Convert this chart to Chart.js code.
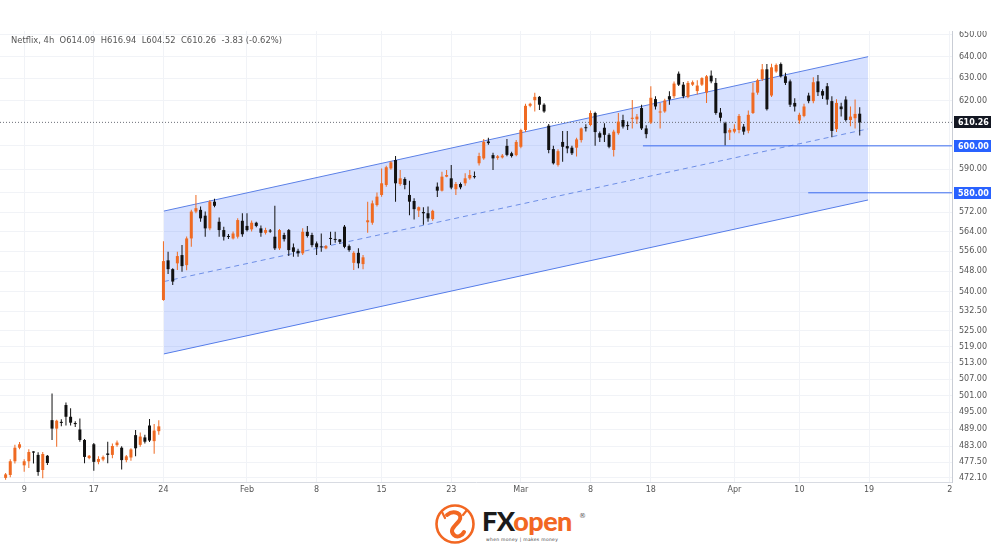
<!DOCTYPE html>
<html>
<head>
<meta charset="utf-8">
<title>Netflix 4h</title>
<script src="https://cdn.jsdelivr.net/npm/chart.js@4.4.1/dist/chart.umd.min.js"></script>
<style>
  html, body { margin: 0; padding: 0; background: #fff; }
  body { width: 1000px; height: 549px; position: relative; overflow: hidden; font-family: "DejaVu Sans", sans-serif; }
  #panel { position: absolute; left: 0; top: 31px; width: 994px; height: 466px; }
  #legend { position: absolute; left: 11px; top: 35px; font-size: 8.4px; color: #555; white-space: pre; }
  #logo { position: absolute; left: 434px; top: 503px; width: 160px; height: 44px; }
  #logo svg { position: absolute; left: 0; top: 0; }
  #brand { position: absolute; left: 48px; top: 3px; font-family: Lato, "Open Sans", sans-serif; font-weight: 900; font-size: 27px; letter-spacing: -0.6px; line-height: 30px; }
  #brand .fx { color: #1b1b1b; }
  #brand .op { color: #f26722; }
  #reg { position: absolute; left: 145px; top: 9px; font-size: 7px; color: #555; }
  #tag { position: absolute; left: 52px; top: 34px; font-size: 4.5px; color: #444; letter-spacing: 0.3px; white-space: pre; }
</style>
</head>
<body>
<div id="panel"><canvas id="priceChart"></canvas></div>
<div id="legend">Netflix, 4h  O614.09  H616.94  L604.52  C610.26  -3.83 (-0.62%)</div>
<div id="logo">
  <svg width="42" height="42" viewBox="0 0 42 42">
    <circle cx="21" cy="21" r="18.5" fill="#fff" stroke="#f26722" stroke-width="2.6"/>
    <path d="M13 12 C 20 6, 30 11, 25 18 C 20 24, 15 27, 20 32 C 23 35, 28 33, 30 29" fill="none" stroke="#f26722" stroke-width="4" stroke-linecap="round"/>
    <path d="M11 15 L 8 9 M 29 12 L 33 7" stroke="#f26722" stroke-width="2.2" stroke-linecap="round"/>
  </svg>
  <div id="brand"><span class="fx">FX</span><span class="op">open</span></div>
  <div id="reg">®</div>
  <div id="tag">when money | makes money</div>
</div>
<script>
// Netflix 4h candles (index 0 = first visible bar)
const opens = [
  472.1, 473.1, 477.8, 482.5, 476.4, 477.8, 481.2, 480.0, 474.8, 479.7, 492.2, 489.2, 491.6, 497.6, 493.4, 491.2, 488.9,
  485.2, 478.9, 483.7, 477.6, 478.4, 480.5, 480.0, 483.4, 482.5, 478.2, 479.1, 486.9, 483.5, 486.1, 490.3, 484.8, 488.3,
  536.8, 552.4, 548.9, 551.2, 554.5, 550.5, 561.2, 572.2, 572.9, 570.5, 565.3, 576.3, 568.0, 564.6, 562.2, 561.2, 561.9,
  568.4, 566.3, 564.9, 567.6, 565.3, 563.5, 564.4, 561.9, 557.2, 562.6, 564.6, 557.6, 556.2, 555.2, 563.9, 562.6, 559.2,
  558.0, 557.2, 561.4, 561.0, 560.8, 566.0, 558.1, 551.4, 555.4, 550.9, 567.8, 567.6, 574.9, 579.1, 583.3, 590.3, 593.9,
  583.7, 585.8, 579.1, 576.6, 572.6, 572.0, 571.5, 569.1, 582.6, 580.9, 586.8, 586.1, 581.5, 583.7, 584.0, 586.1, 587.0,
  592.5, 594.6, 601.9, 596.0, 594.8, 595.0, 600.0, 596.8, 596.0, 599.6, 606.9, 617.6, 620.1, 621.6, 618.1, 608.8, 598.6,
  591.8, 601.7, 599.9, 599.2, 599.2, 602.5, 608.1, 609.1, 614.4, 605.5, 607.9, 604.8, 598.2, 605.5, 611.3, 609.0, 611.8,
  611.6, 616.6, 607.6, 610.2, 620.6, 614.6, 615.1, 621.9, 621.9, 632.1, 627.1, 621.5, 627.1, 624.2, 627.1, 623.5, 631.2,
  627.9, 614.6, 609.9, 605.8, 606.2, 606.9, 608.4, 606.6, 614.4, 623.5, 629.6, 634.1, 622.2, 633.1, 636.5, 630.9, 628.6,
  618.9, 611.1, 613.1, 622.2, 619.7, 628.6, 624.2, 626.4, 619.7, 607.3, 617.3, 620.4, 611.3, 612.1, 614.09
];
const highs = [
  473.8, 478.5, 483.5, 484.5, 478.5, 482.0, 481.3, 480.9, 481.0, 480.0, 501.8, 492.3, 492.5, 498.5, 496.4, 491.8, 492.8,
  485.5, 480.0, 484.1, 479.5, 479.8, 484.6, 484.0, 485.0, 483.0, 480.0, 482.3, 488.7, 487.8, 487.0, 492.6, 490.8, 492.2,
  560.1, 555.8, 549.3, 555.8, 558.5, 562.0, 572.9, 579.1, 574.3, 572.2, 577.0, 577.5, 569.8, 566.0, 563.0, 564.0, 569.4,
  571.5, 571.5, 568.5, 568.0, 566.5, 565.5, 565.0, 574.6, 565.0, 563.5, 565.0, 559.2, 557.0, 565.3, 566.3, 563.5, 560.0,
  563.2, 558.5, 563.9, 563.9, 561.0, 566.7, 558.8, 556.0, 557.2, 554.5, 576.3, 576.8, 580.1, 590.3, 591.4, 593.4, 595.6,
  589.6, 586.5, 585.1, 577.7, 574.3, 574.0, 574.3, 573.0, 584.3, 588.9, 589.6, 591.8, 584.5, 584.3, 588.2, 589.6, 589.0,
  597.0, 603.0, 603.5, 597.0, 596.0, 596.5, 603.0, 597.5, 602.5, 607.5, 618.5, 619.0, 623.4, 622.0, 618.8, 609.5, 600.0,
  598.5, 606.5, 606.5, 600.0, 603.5, 608.0, 609.4, 615.5, 615.0, 606.2, 609.9, 605.5, 607.0, 614.4, 613.6, 610.6, 620.2,
  614.0, 618.1, 609.0, 626.4, 621.9, 618.9, 620.8, 624.1, 628.5, 633.1, 628.3, 628.8, 629.0, 629.1, 630.5, 631.5, 633.6,
  630.1, 616.6, 610.5, 607.7, 609.4, 614.0, 609.5, 615.5, 627.9, 629.8, 636.5, 636.5, 636.7, 636.8, 637.2, 632.5, 629.5,
  621.0, 614.5, 618.5, 623.5, 630.5, 631.5, 625.0, 627.9, 621.9, 620.5, 619.0, 621.9, 617.3, 620.4, 616.94
];
const lows = [
  471.5, 472.3, 477.0, 482.0, 474.2, 475.5, 477.0, 472.8, 472.0, 476.5, 485.2, 482.8, 490.0, 490.3, 490.3, 489.8, 484.6,
  477.1, 478.5, 474.5, 476.8, 477.8, 477.1, 478.8, 482.8, 475.0, 477.5, 478.0, 479.5, 482.8, 484.0, 484.5, 480.4, 487.0,
  536.5, 547.0, 542.6, 548.6, 547.9, 548.5, 557.8, 571.5, 568.0, 561.9, 564.5, 574.0, 561.9, 560.4, 561.0, 560.8, 561.2,
  561.9, 564.0, 564.0, 565.8, 561.9, 562.8, 563.5, 556.5, 556.5, 560.0, 554.1, 553.8, 553.8, 554.5, 561.6, 557.6, 554.5,
  555.8, 556.8, 558.5, 559.5, 559.0, 557.2, 555.8, 548.6, 549.3, 548.9, 563.5, 566.8, 574.3, 578.4, 582.5, 589.7, 576.3,
  583.0, 581.5, 570.7, 568.9, 570.0, 566.8, 568.0, 568.4, 578.2, 580.5, 586.5, 581.5, 579.1, 581.5, 583.0, 585.5, 586.0,
  591.5, 594.0, 600.5, 589.6, 594.0, 594.5, 595.5, 595.0, 595.5, 599.0, 606.0, 617.0, 615.1, 615.7, 614.5, 596.8, 592.0,
  591.1, 593.2, 596.8, 596.0, 595.4, 601.5, 606.2, 608.5, 600.0, 601.7, 601.7, 599.0, 595.4, 604.8, 607.6, 606.9, 607.6,
  609.5, 606.9, 603.3, 609.5, 616.0, 607.6, 614.5, 618.1, 621.0, 626.5, 621.0, 621.0, 626.5, 622.7, 626.5, 618.9, 627.8,
  613.6, 610.6, 600.3, 602.5, 605.5, 605.5, 604.8, 605.5, 614.0, 622.5, 628.8, 615.5, 621.5, 632.5, 630.3, 627.0, 617.1,
  615.1, 609.6, 612.5, 618.8, 618.8, 622.0, 620.7, 618.1, 603.7, 606.0, 612.8, 610.6, 608.6, 607.6, 604.52
];
const closes = [
  473.3, 477.8, 482.5, 483.7, 477.8, 481.0, 480.8, 474.1, 480.3, 477.2, 489.2, 492.0, 491.2, 493.4, 491.3, 490.8, 485.2,
  479.3, 479.7, 477.6, 478.6, 479.3, 480.0, 483.1, 484.3, 478.2, 479.5, 481.9, 482.3, 486.4, 484.6, 485.0, 488.5, 490.0,
  552.1, 548.9, 544.0, 554.1, 550.1, 561.2, 572.2, 573.6, 569.4, 565.3, 576.3, 574.6, 564.6, 561.9, 561.8, 563.2, 568.7,
  562.9, 564.6, 567.6, 566.3, 563.5, 564.6, 564.0, 557.2, 564.6, 560.9, 556.5, 555.8, 555.2, 563.9, 562.2, 558.5, 557.6,
  557.6, 558.1, 561.0, 560.6, 559.8, 557.8, 556.5, 555.4, 551.2, 553.6, 568.6, 575.6, 578.4, 584.0, 590.8, 592.9, 584.0,
  586.1, 583.3, 576.3, 573.2, 574.0, 571.5, 569.4, 572.5, 580.9, 586.8, 587.5, 582.2, 583.7, 582.3, 586.1, 587.5, 586.6,
  595.6, 601.7, 601.2, 594.6, 595.5, 595.8, 596.1, 595.6, 601.7, 606.9, 617.6, 618.5, 621.6, 618.1, 615.1, 598.2, 592.5,
  597.7, 599.6, 598.9, 596.8, 602.8, 607.6, 607.7, 614.4, 606.0, 603.6, 604.8, 599.6, 606.2, 610.6, 608.4, 608.6, 612.3,
  612.8, 607.6, 605.1, 621.2, 617.3, 615.1, 620.0, 620.4, 627.6, 627.1, 621.9, 627.9, 628.2, 626.7, 630.1, 630.9, 628.6,
  614.4, 612.3, 605.5, 606.9, 607.4, 613.1, 606.2, 613.6, 623.5, 629.1, 634.1, 616.1, 635.0, 636.1, 630.9, 627.9, 618.1,
  617.3, 613.6, 617.3, 619.7, 628.2, 623.7, 622.2, 620.4, 606.5, 618.9, 616.1, 611.3, 612.8, 614.0, 610.26
];

// date labels under the axis, placed at bar index
const tickIdx = [4, 19, 34, 52, 67, 81, 96, 111, 126, 139, 157, 171, 186, 203.4];
const tickText = ['9', '17', '24', 'Feb', '8', '15', '23', 'Mar', '8', '18', 'Apr', '10', '19', '2'];

// price axis labels (TradingView style log axis)
const priceTicks = [650, 640, 630, 620, 600, 590, 580, 572, 564, 556, 548, 540, 532.5, 525, 519, 513, 507, 501, 495, 489, 483, 477.5, 472.1];

// drawings: regression channel, horizontal levels, last price
const channelIdx = [34.1, 185.8];
const channelTop = [572.4, 639.9];
const channelMid = [544.0, 607.4];
const channelBottom = [516.3, 577.0];
const levelPrices = [600, 580];
const levelStartIdx = [137.3, 172.9];
const lastPrice = 610.26;

const UP = '#ef6a22';
const DOWN = '#111111';
const X_MIN = -1.21, X_MAX = 203.88;

const candleColors = closes.map((c, i) => c >= opens[i] ? UP : DOWN);
const wickData = highs.map((h, i) => ({ x: i, y: [lows[i], h] }));
const bodyData = opens.map((o, i) => ({ x: i, y: [o, closes[i]] }));

function twoPoint(xs, ys) {
  return [{ x: xs[0], y: ys[0] }, { x: xs[1], y: ys[1] }];
}

const lineBase = { type: 'line', pointRadius: 0, borderWidth: 1, tension: 0, fill: false };

const datasets = [
  Object.assign({}, lineBase, {
    data: twoPoint(channelIdx, channelTop), borderColor: '#5b80e6',
    fill: '+1', backgroundColor: 'rgba(41,98,255,0.19)', order: 10
  }),
  Object.assign({}, lineBase, { data: twoPoint(channelIdx, channelBottom), borderColor: '#5b80e6', order: 10 }),
  Object.assign({}, lineBase, { data: twoPoint(channelIdx, channelMid), borderColor: '#6d8ee6', borderDash: [5, 4], order: 9 }),
  Object.assign({}, lineBase, { data: twoPoint([X_MIN, X_MAX], [lastPrice, lastPrice]), borderColor: '#6b6f78', borderDash: [1, 2], order: 8 })
];
levelPrices.forEach((p, k) => {
  datasets.push(Object.assign({}, lineBase, {
    data: twoPoint([levelStartIdx[k], X_MAX], [p, p]), borderColor: '#3b6cf0', order: 8
  }));
});
datasets.push({
  type: 'bar', data: wickData, backgroundColor: candleColors, grouped: false,
  maxBarThickness: 1, inflateAmount: 0, order: 2
});
datasets.push({
  type: 'bar', data: bodyData, backgroundColor: candleColors, grouped: false,
  maxBarThickness: 3, minBarLength: 1, inflateAmount: 0, order: 1
});

// coloured price tags on the right axis
const priceTags = {
  id: 'priceTags',
  afterDraw(chart) {
    const { ctx, chartArea, scales } = chart;
    const tags = [{ v: lastPrice, bg: '#131722' }].concat(levelPrices.map(v => ({ v: v, bg: '#2962ff' })));
    ctx.save();
    ctx.font = 'bold 8px "DejaVu Sans"';
    ctx.textBaseline = 'middle';
    ctx.textAlign = 'left';
    tags.forEach(t => {
      const py = Math.round(scales.y.getPixelForValue(t.v));
      ctx.fillStyle = t.bg;
      ctx.fillRect(chartArea.right + 2, py - 6, 37, 12);
      ctx.fillStyle = '#fff';
      ctx.fillText(t.v.toFixed(2), chartArea.right + 6, py + 0.5);
    });
    ctx.restore();
  }
};

const axisFont = { family: '"DejaVu Sans", sans-serif', size: 8 };

new Chart(document.getElementById('priceChart'), {
  type: 'bar',
  data: { datasets: datasets },
  options: {
    responsive: true,
    maintainAspectRatio: false,
    animation: false,
    layout: { padding: 0 },
    plugins: { legend: { display: false }, tooltip: { enabled: false } },
    scales: {
      x: {
        type: 'linear',
        min: X_MIN,
        max: X_MAX,
        bounds: 'data',
        offset: false,
        grid: { color: '#f1f3f7', drawTicks: false, offset: false },
        border: { display: true, color: '#d8dbe2' },
        ticks: {
          autoSkip: false, maxRotation: 0, padding: 3, font: axisFont, color: '#555',
          callback: v => { const k = tickIdx.indexOf(v); return k >= 0 ? tickText[k] : ''; }
        },
        afterBuildTicks: s => { s.ticks = tickIdx.map(v => ({ value: v })); },
        afterFit: s => { s.height = 15; s.paddingLeft = 0; s.paddingRight = 0; }
      },
      y: {
        type: 'logarithmic',
        position: 'right',
        min: 470.70,
        max: 651.88,
        bounds: 'data',
        grid: { color: '#f1f3f7', drawTicks: false },
        border: { display: true, color: '#c9cdd5' },
        ticks: {
          autoSkip: false, padding: 7, font: axisFont, color: '#555',
          callback: v => Number(v).toFixed(2)
        },
        afterBuildTicks: s => { s.ticks = priceTicks.map(v => ({ value: v })); },
        afterFit: s => { s.width = 42; s.paddingTop = 0; s.paddingBottom = 0; }
      }
    }
  },
  plugins: [priceTags]
});
</script>
</body>
</html>
